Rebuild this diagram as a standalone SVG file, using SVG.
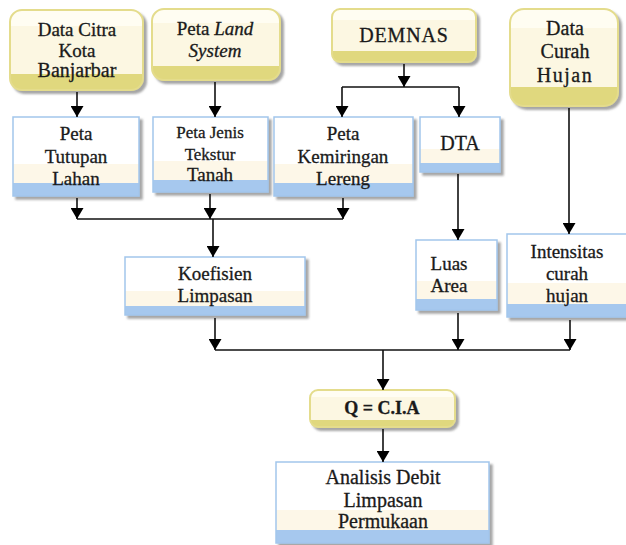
<svg xmlns="http://www.w3.org/2000/svg" width="626" height="545" viewBox="0 0 626 545">
<defs>
<linearGradient id="gy" x1="0" y1="0" x2="0" y2="1">
<stop offset="0" stop-color="#fffdf2"/><stop offset="0.2" stop-color="#fffdf2"/>
<stop offset="0.2" stop-color="#fcf7e2"/><stop offset="0.8" stop-color="#fcf7e2"/>
<stop offset="0.8" stop-color="#e0d87e"/><stop offset="1" stop-color="#e0d87e"/>
</linearGradient>
<linearGradient id="gb" x1="0" y1="0" x2="0" y2="1">
<stop offset="0" stop-color="#ffffff"/><stop offset="0.59" stop-color="#ffffff"/>
<stop offset="0.59" stop-color="#fdf7e8"/><stop offset="0.84" stop-color="#fdf7e8"/>
<stop offset="0.84" stop-color="#a6c8ee"/><stop offset="1" stop-color="#a6c8ee"/>
</linearGradient>
<filter id="sh" x="-10%" y="-10%" width="130%" height="140%">
<feDropShadow dx="3" dy="3" stdDeviation="1" flood-color="#6b6b6b" flood-opacity="0.6"/>
</filter>
<marker id="ah" markerUnits="userSpaceOnUse" markerWidth="12" markerHeight="13" refX="11" refY="6.5" orient="auto">
<path d="M0,0 L11,6.5 L0,13 z" fill="#000"/>
</marker>
</defs>
<style>
.y{fill:url(#gy);stroke:#e4dc8c;stroke-width:2;filter:url(#sh)}
.b{fill:url(#gb);stroke:#a2c6ec;stroke-width:1.5;filter:url(#sh)}
text{font-family:"Liberation Serif","Times New Roman",serif;font-size:19px;fill:#1a1a1a;stroke:#1a1a1a;stroke-width:0.3;text-anchor:middle}
.c line{stroke:#111;stroke-width:1.6;fill:none}
.a{marker-end:url(#ah)}
</style>

<g id="n-citra">
<rect class="y" x="10" y="10" width="133" height="80" rx="12"/>
<text x="77" y="36">Data Citra</text>
<text x="77" y="57">Kota</text>
<text x="77" y="77" style="font-size:20px">Banjarbar</text>
</g>
<g id="n-land">
<rect class="y" x="152" y="9" width="128" height="71" rx="12"/>
<text x="215" y="35">Peta <tspan font-style="italic">Land</tspan></text>
<text x="215" y="57" font-style="italic">System</text>
</g>
<g id="n-demnas">
<rect class="y" x="332" y="9" width="144" height="53" rx="8"/>
<text x="404" y="42" style="font-size:20px;letter-spacing:0.8px">DEMNAS</text>
</g>
<g id="n-curah">
<rect class="y" x="510" y="9" width="108" height="97" rx="14"/>
<text x="565" y="35" style="font-size:20px">Data</text>
<text x="565" y="58" style="font-size:20px">Curah</text>
<text x="565" y="82" style="font-size:20px;letter-spacing:1.5px">Hujan</text>
</g>
<g id="n-tutupan">
<rect class="b" x="13" y="117" width="126" height="79"/>
<text x="76" y="140">Peta</text>
<text x="76" y="163">Tutupan</text>
<text x="76" y="185">Lahan</text>
</g>
<g id="n-tekstur">
<rect class="b" x="153" y="117" width="115" height="75"/>
<text x="210" y="138" style="font-size:17px">Peta Jenis</text>
<text x="210" y="160" style="font-size:17px">Tekstur</text>
<text x="210" y="181">Tanah</text>
</g>
<g id="n-lereng">
<rect class="b" x="274" y="117" width="139" height="79"/>
<text x="343" y="140">Peta</text>
<text x="343" y="163">Kemiringan</text>
<text x="343" y="185">Lereng</text>
</g>
<g id="n-dta">
<rect class="b" x="420" y="117" width="80" height="55"/>
<text x="460" y="150" style="font-size:20px">DTA</text>
</g>
<g id="n-koef">
<rect class="b" x="125" y="257" width="180" height="58"/>
<text x="215" y="280">Koefisien</text>
<text x="215" y="302">Limpasan</text>
</g>
<g id="n-luas">
<rect class="b" x="416" y="240" width="81" height="70"/>
<text x="449" y="270">Luas</text>
<text x="449" y="292">Area</text>
</g>
<g id="n-intensitas">
<rect class="b" x="507" y="234" width="125" height="83"/>
<text x="567" y="258">Intensitas</text>
<text x="567" y="280">curah</text>
<text x="567" y="302">hujan</text>
</g>
<g id="n-q">
<rect class="y" x="310" y="390" width="145" height="37" rx="8"/>
<text x="382" y="414" style="font-weight:bold;font-size:18px">Q = C.I.A</text>
</g>
<g id="n-analisis">
<rect class="b" x="276" y="462" width="213" height="81"/>
<text x="383" y="484" style="font-size:20px">Analisis Debit</text>
<text x="383" y="507" style="font-size:20px">Limpasan</text>
<text x="383" y="528" style="font-size:20px">Permukaan</text>
</g>

<g id="connectors" class="c">
<line class="a" x1="77" y1="92" x2="77" y2="117"/>
<line class="a" x1="215" y1="82" x2="215" y2="117"/>
<line class="a" x1="404" y1="64" x2="404" y2="87"/>
<line x1="342" y1="87" x2="459" y2="87"/>
<line class="a" x1="342" y1="87" x2="342" y2="117"/>
<line class="a" x1="459" y1="87" x2="459" y2="117"/>
<line class="a" x1="77" y1="198" x2="77" y2="219"/>
<line class="a" x1="210" y1="194" x2="210" y2="219"/>
<line class="a" x1="343" y1="198" x2="343" y2="219"/>
<line x1="77" y1="219" x2="343" y2="219"/>
<line class="a" x1="213" y1="219" x2="213" y2="257"/>
<line class="a" x1="458" y1="174" x2="458" y2="240"/>
<line class="a" x1="569" y1="108" x2="569" y2="234"/>
<line class="a" x1="215" y1="318" x2="215" y2="350"/>
<line class="a" x1="458" y1="313" x2="458" y2="350"/>
<line class="a" x1="570" y1="320" x2="570" y2="350"/>
<line x1="215" y1="350" x2="570" y2="350"/>
<line class="a" x1="383" y1="350" x2="383" y2="390"/>
<line class="a" x1="383" y1="429" x2="383" y2="462"/>
</g>
</svg>
